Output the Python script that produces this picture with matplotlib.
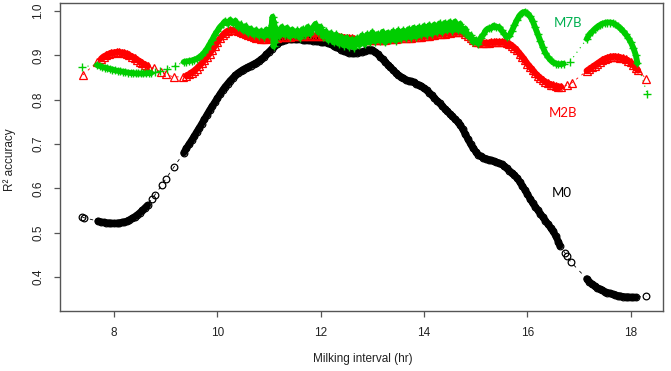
import matplotlib
matplotlib.use("Agg")
import matplotlib.pyplot as plt

# ---------------- data ----------------
m0_x = [7.38, 7.41, 7.69,
        7.75, 7.80, 7.85, 7.90, 7.95, 8.00, 8.05, 8.10, 8.15, 8.20,
        8.25, 8.30, 8.35, 8.40, 8.45, 8.50, 8.55, 8.60, 8.65,
        8.73, 8.79, 8.93, 9.00, 9.16,
        9.35, 9.40, 9.45, 9.50, 9.55, 9.60, 9.65, 9.70, 9.75, 9.80,
        9.85, 9.90, 9.95, 10.00, 10.05, 10.10, 10.15, 10.20, 10.25, 10.30,
        10.35, 10.40, 10.45, 10.50, 10.55, 10.60, 10.65, 10.70, 10.75, 10.80,
        10.85, 10.90, 10.95, 11.00, 11.05, 11.10, 11.15, 11.20, 11.25, 11.30,
        11.35, 11.40, 11.45, 11.50, 11.55, 11.60, 11.65, 11.70, 11.75, 11.80,
        11.85, 11.90, 11.95, 12.00, 12.05, 12.10, 12.15, 12.20, 12.25, 12.30,
        12.35, 12.40, 12.45, 12.50, 12.55, 12.60, 12.65, 12.70, 12.75, 12.80,
        12.85, 12.90, 12.95, 13.00, 13.05, 13.10, 13.15, 13.20, 13.25, 13.30,
        13.35, 13.40, 13.45, 13.50, 13.55, 13.60, 13.65, 13.70, 13.75, 13.80,
        13.85, 13.90, 13.95, 14.00, 14.05, 14.10, 14.15, 14.20, 14.25, 14.30,
        14.35, 14.40, 14.45, 14.50, 14.55, 14.60, 14.65, 14.70, 14.75, 14.80,
        14.85, 14.90, 14.95, 15.00, 15.05, 15.10, 15.15, 15.20, 15.25, 15.30,
        15.35, 15.40, 15.45, 15.50, 15.55, 15.60, 15.65, 15.70, 15.75, 15.80,
        15.85, 15.90, 15.95, 16.00, 16.05, 16.10, 16.15, 16.20, 16.25, 16.30,
        16.35, 16.40, 16.45, 16.50, 16.55, 16.60, 16.63,
        16.73, 16.77, 16.84, 17.15,
        17.20, 17.25, 17.30, 17.35, 17.40, 17.45, 17.50, 17.55, 17.60, 17.65,
        17.70, 17.75, 17.80, 17.85, 17.90, 17.95, 18.00, 18.05, 18.10,
        18.30]
m0_y = [0.536, 0.534, 0.526,
        0.524, 0.523, 0.522, 0.522, 0.521, 0.521, 0.521, 0.522, 0.523, 0.524,
        0.526, 0.529, 0.532, 0.536, 0.540, 0.545, 0.550, 0.556, 0.562,
        0.576, 0.585, 0.608, 0.621, 0.648,
        0.680, 0.690, 0.699, 0.708, 0.717, 0.727, 0.736, 0.746, 0.756, 0.766,
        0.776, 0.785, 0.794, 0.803, 0.812, 0.821, 0.829, 0.836, 0.843, 0.849,
        0.855, 0.860, 0.864, 0.868, 0.871, 0.874, 0.877, 0.880, 0.883, 0.887,
        0.891, 0.896, 0.902, 0.908, 0.914, 0.920, 0.926, 0.930, 0.933, 0.935,
        0.936, 0.936, 0.936, 0.936, 0.936, 0.936, 0.935, 0.935, 0.934, 0.934,
        0.933, 0.933, 0.932, 0.931, 0.930, 0.929, 0.927, 0.925, 0.922, 0.919,
        0.916, 0.913, 0.910, 0.908, 0.906, 0.905, 0.905, 0.906, 0.907, 0.908,
        0.910, 0.912, 0.913, 0.912, 0.908, 0.903, 0.897, 0.891, 0.885, 0.879,
        0.873, 0.867, 0.861, 0.856, 0.852, 0.848, 0.845, 0.843, 0.841, 0.839,
        0.836, 0.833, 0.830, 0.826, 0.821, 0.816, 0.810, 0.804, 0.798, 0.792,
        0.786, 0.780, 0.774, 0.768, 0.762, 0.756, 0.750, 0.743, 0.733, 0.722,
        0.711, 0.700, 0.691, 0.683, 0.676, 0.672, 0.669, 0.667, 0.665, 0.663,
        0.661, 0.659, 0.657, 0.654, 0.650, 0.645, 0.640, 0.635, 0.630, 0.623,
        0.615, 0.606, 0.597, 0.587, 0.577, 0.567, 0.559, 0.551, 0.543, 0.535,
        0.527, 0.519, 0.511, 0.503, 0.492, 0.480, 0.470,
        0.454, 0.447, 0.434, 0.396,
        0.389, 0.384, 0.380, 0.376, 0.373, 0.370, 0.367, 0.365, 0.363, 0.361,
        0.360, 0.358, 0.357, 0.356, 0.355, 0.355, 0.354, 0.354, 0.354,
        0.357]

m2b_x = [7.40, 7.68,
         7.75, 7.80, 7.85, 7.90, 7.95, 8.00, 8.05, 8.10, 8.15, 8.20,
         8.25, 8.30, 8.35, 8.40, 8.45, 8.50, 8.55, 8.60, 8.65,
         8.77, 8.90, 9.00, 9.16, 9.34,
         9.40, 9.45, 9.50, 9.55, 9.60, 9.65, 9.70, 9.75, 9.80, 9.85,
         9.90, 9.95, 10.00, 10.05, 10.10, 10.15, 10.20, 10.25, 10.30, 10.35,
         10.40, 10.45, 10.50, 10.55, 10.60, 10.65, 10.70, 10.75, 10.80, 10.85,
         10.90, 10.95, 11.00, 11.05, 11.10, 11.15, 11.20, 11.25, 11.30, 11.35,
         11.40, 11.45, 11.50, 11.55, 11.60, 11.65, 11.70, 11.75, 11.80, 11.85,
         11.90, 11.95, 12.00, 12.05, 12.10, 12.15, 12.20, 12.25, 12.30, 12.35,
         12.40, 12.45, 12.50, 12.55, 12.60, 12.65, 12.70, 12.75, 12.80, 12.85,
         12.90, 12.95, 13.00, 13.05, 13.10, 13.15, 13.20, 13.25, 13.30, 13.35,
         13.40, 13.45, 13.50, 13.55, 13.60, 13.65, 13.70, 13.75, 13.80, 13.85,
         13.90, 13.95, 14.00, 14.05, 14.10, 14.15, 14.20, 14.25, 14.30, 14.35,
         14.40, 14.45, 14.50, 14.55, 14.60, 14.65, 14.70, 14.75, 14.80, 14.85,
         14.90, 14.95, 15.00, 15.05, 15.10, 15.15, 15.20, 15.25, 15.30, 15.35,
         15.40, 15.45, 15.50, 15.55, 15.60, 15.65, 15.70, 15.75, 15.80, 15.85,
         15.90, 15.95, 16.00, 16.05, 16.10, 16.15, 16.20, 16.25, 16.30, 16.35,
         16.40, 16.45, 16.50, 16.55, 16.60, 16.65,
         16.77, 16.86, 17.15,
         17.20, 17.25, 17.30, 17.35, 17.40, 17.45, 17.50, 17.55, 17.60, 17.65,
         17.70, 17.75, 17.80, 17.85, 17.90, 17.95, 18.00, 18.05, 18.10, 18.14,
         18.30]
m2b_y = [0.856, 0.886,
         0.892, 0.897, 0.900, 0.903, 0.905, 0.906, 0.907, 0.907, 0.906, 0.905,
         0.903, 0.900, 0.897, 0.894, 0.890, 0.886, 0.882, 0.879, 0.876,
         0.871, 0.862, 0.857, 0.851, 0.852,
         0.854, 0.857, 0.861, 0.865, 0.870, 0.876, 0.882, 0.889, 0.896, 0.904,
         0.912, 0.921, 0.930, 0.938, 0.945, 0.951, 0.955, 0.957, 0.957, 0.956,
         0.954, 0.952, 0.950, 0.948, 0.946, 0.944, 0.942, 0.940, 0.938, 0.937,
         0.937, 0.937, 0.938, 0.939, 0.940, 0.940, 0.941, 0.941, 0.942, 0.942,
         0.942, 0.943, 0.943, 0.943, 0.943, 0.944, 0.944, 0.944, 0.944, 0.944,
         0.944, 0.944, 0.944, 0.944, 0.943, 0.943, 0.943, 0.942, 0.942, 0.941,
         0.941, 0.940, 0.939, 0.938, 0.938, 0.937, 0.936, 0.935, 0.935, 0.934,
         0.934, 0.934, 0.934, 0.934, 0.934, 0.935, 0.935, 0.935, 0.936, 0.936,
         0.937, 0.937, 0.938, 0.938, 0.939, 0.939, 0.940, 0.940, 0.941, 0.941,
         0.942, 0.942, 0.943, 0.944, 0.944, 0.945, 0.946, 0.947, 0.948, 0.948,
         0.949, 0.950, 0.951, 0.952, 0.952, 0.953, 0.953, 0.952, 0.948, 0.943,
         0.938, 0.934, 0.931, 0.929, 0.928, 0.928, 0.928, 0.928, 0.929, 0.929,
         0.930, 0.930, 0.930, 0.929, 0.928, 0.926, 0.922, 0.917, 0.911, 0.904,
         0.897, 0.889, 0.881, 0.874, 0.867, 0.860, 0.854, 0.849, 0.844, 0.840,
         0.837, 0.834, 0.832, 0.830, 0.829, 0.829,
         0.833, 0.838, 0.865,
         0.869, 0.873, 0.877, 0.881, 0.885, 0.889, 0.892, 0.894, 0.896, 0.897,
         0.897, 0.896, 0.895, 0.893, 0.891, 0.888, 0.884, 0.878, 0.871, 0.866,
         0.847]

m7b_x = [7.38, 7.67,
         7.72, 7.77, 7.82, 7.87, 7.92, 7.97, 8.02, 8.07, 8.12, 8.17,
         8.22, 8.27, 8.32, 8.37, 8.42, 8.47, 8.52, 8.57, 8.62, 8.67, 8.72,
         8.79, 8.89, 9.02, 9.18,
         9.35, 9.40, 9.45, 9.50, 9.55, 9.60, 9.65, 9.70, 9.75, 9.80,
         9.85, 9.90, 9.95, 10.00, 10.05, 10.10, 10.15, 10.20, 10.25, 10.30,
         10.35, 10.40, 10.45, 10.50, 10.55, 10.60, 10.65, 10.70, 10.75, 10.80,
         10.85, 10.90, 10.95, 11.00, 11.05, 11.07, 11.09, 11.10, 11.12,
         11.15, 11.20, 11.25, 11.30,
         11.35, 11.40, 11.45, 11.50, 11.55, 11.60, 11.65, 11.70, 11.75, 11.80,
         11.85, 11.90, 11.95, 12.00, 12.05, 12.10, 12.15, 12.20, 12.25, 12.30,
         12.35, 12.40, 12.45, 12.50, 12.55, 12.60, 12.65, 12.70, 12.75, 12.80,
         12.85, 12.90, 12.95, 13.00, 13.05, 13.10, 13.15, 13.20, 13.25, 13.30,
         13.35, 13.40, 13.45, 13.50, 13.55, 13.60, 13.65, 13.70, 13.75, 13.80,
         13.85, 13.90, 13.95, 14.00, 14.05, 14.10, 14.15, 14.20, 14.25, 14.30,
         14.35, 14.40, 14.45, 14.50, 14.55, 14.60, 14.65, 14.70, 14.75, 14.80,
         14.85, 14.90, 14.95, 15.00, 15.05, 15.10, 15.15, 15.20, 15.25, 15.30,
         15.35, 15.40, 15.45, 15.50, 15.55, 15.60, 15.65, 15.70, 15.75, 15.80,
         15.85, 15.90, 15.95, 16.00, 16.05, 16.10, 16.15, 16.20, 16.25, 16.30,
         16.35, 16.40, 16.45, 16.50, 16.55, 16.60, 16.65, 16.70,
         16.82, 17.15,
         17.20, 17.25, 17.30, 17.35, 17.40, 17.45, 17.50, 17.55, 17.60, 17.65,
         17.70, 17.75, 17.80, 17.85, 17.90, 17.95, 18.00, 18.05, 18.10, 18.13,
         18.32]
m7b_y = [0.874, 0.878,
         0.876, 0.874, 0.872, 0.871, 0.869, 0.868, 0.866, 0.865, 0.864, 0.863,
         0.862, 0.861, 0.860, 0.860, 0.859, 0.859, 0.859, 0.859, 0.859, 0.860, 0.860,
         0.862, 0.865, 0.870, 0.876,
         0.885, 0.886, 0.887, 0.888, 0.890, 0.892, 0.896, 0.900, 0.907, 0.915,
         0.925, 0.935, 0.946, 0.955, 0.964, 0.970, 0.977, 0.971, 0.980, 0.972,
         0.978, 0.964, 0.970, 0.956, 0.966, 0.950, 0.960, 0.946, 0.957, 0.944,
         0.955, 0.942, 0.958, 0.945, 0.968, 0.987, 0.920, 0.975, 0.930,
         0.959, 0.943, 0.964, 0.946,
         0.962, 0.942, 0.958, 0.945, 0.956, 0.939, 0.959, 0.946, 0.964, 0.948,
         0.963, 0.971, 0.952, 0.964, 0.942, 0.954, 0.934, 0.950, 0.929, 0.947,
         0.926, 0.942, 0.922, 0.940, 0.919, 0.936, 0.917, 0.938, 0.923, 0.945,
         0.925, 0.947, 0.929, 0.952, 0.931, 0.948, 0.933, 0.953, 0.929, 0.951,
         0.934, 0.954, 0.933, 0.956, 0.937, 0.956, 0.939, 0.959, 0.940, 0.962,
         0.942, 0.963, 0.946, 0.966, 0.946, 0.968, 0.948, 0.969, 0.952, 0.972,
         0.952, 0.973, 0.956, 0.975, 0.955, 0.976, 0.957, 0.971, 0.953, 0.960,
         0.943, 0.946, 0.930, 0.935, 0.926, 0.940, 0.947, 0.957, 0.961, 0.961,
         0.967, 0.963, 0.964, 0.956, 0.949, 0.941, 0.944, 0.955, 0.968, 0.980,
         0.990, 0.996, 0.998, 0.995, 0.988, 0.978, 0.963, 0.948, 0.933, 0.918,
         0.905, 0.896, 0.889, 0.884, 0.881, 0.880, 0.880, 0.881,
         0.885, 0.937,
         0.947, 0.953, 0.959, 0.964, 0.968, 0.971, 0.973, 0.974, 0.974, 0.973,
         0.970, 0.966, 0.961, 0.955, 0.948, 0.940, 0.930, 0.917, 0.900, 0.882,
         0.813]

x_ticks = [8, 10, 12, 14, 16, 18]
y_ticks = [0.4, 0.5, 0.6, 0.7, 0.8, 0.9, 1.0]
series_labels = ["M7B", "M2B", "M0"]

assert len(m0_x) == len(m0_y)
assert len(m2b_x) == len(m2b_y)
assert len(m7b_x) == len(m7b_y)


def dense_runs(xs, ys, gap=0.06):
    """Split a series into runs of closely spaced observations."""
    runs, cur = [], [0]
    for i in range(1, len(xs)):
        if xs[i] - xs[i - 1] <= gap:
            cur.append(i)
        else:
            runs.append(cur)
            cur = [i]
    runs.append(cur)
    return [([xs[i] for i in r], [ys[i] for i in r]) for r in runs if len(r) >= 3]


# ---------------- figure ----------------
W, H = 671, 371
fig = plt.figure(figsize=(W / 100, H / 100), dpi=100)
ax = fig.add_axes([60 / W, 1 - 311 / H, (663 - 60) / W, (311 - 3) / H])

GREEN = "#00CD00"
RED = "#FF0000"
BLACK = "#000000"

# connecting dashed lines (R type "b")
ax.plot(m0_x, m0_y, color=BLACK, lw=0.6, ls=(0, (4, 6)), zorder=1)
ax.plot(m2b_x, m2b_y, color=RED, lw=0.6, ls=(0, (3, 5)), zorder=1)
ax.plot(m7b_x, m7b_y, color=GREEN, lw=0.8, ls=(0, (1, 4)), zorder=1)

# densely overplotted stretches appear as solid bands
for (rx, ry) in dense_runs(m0_x, m0_y):
    ax.plot(rx, ry, color=BLACK, lw=5.0, solid_capstyle="round",
            solid_joinstyle="round", zorder=2)
for (rx, ry) in dense_runs(m2b_x, m2b_y):
    ax.plot(rx, ry, color=RED, lw=4.6, solid_capstyle="round",
            solid_joinstyle="round", zorder=2.5)
for (rx, ry) in dense_runs(m7b_x, m7b_y):
    ax.plot(rx, ry, color=GREEN, lw=4.2, solid_capstyle="round",
            solid_joinstyle="round", zorder=4.5)

ax.plot(m0_x, m0_y, ls="none", marker="o", ms=4.8, mfc="none",
        mec=BLACK, mew=0.9, zorder=3)
ax.plot(m2b_x, m2b_y, ls="none", marker="^", ms=6.0, mfc="none",
        mec=RED, mew=0.9, zorder=4)
ax.plot(m7b_x, m7b_y, ls="none", marker="+", ms=6.2,
        mec=GREEN, mew=1.0, zorder=5)

ax.set_xlim(6.955, 18.625)
ax.set_ylim(0.3233, 1.018)

ax.set_xticks(x_ticks)
ax.set_xticklabels([str(v) for v in x_ticks])
ax.set_yticks(y_ticks)
ax.set_yticklabels([f"{v:.1f}" for v in y_ticks])

FRAME = "#555555"
for s in ax.spines.values():
    s.set_color(FRAME)
    s.set_linewidth(1.0)
ax.tick_params(axis="both", direction="out", length=4.3, width=0.9,
               color=FRAME, labelsize=8.5, labelcolor="#222222",
               labelfontfamily="Liberation Sans")
ax.tick_params(axis="x", pad=7)
ax.tick_params(axis="y", pad=7)
for lab in ax.get_yticklabels():
    lab.set_rotation(90)
    lab.set_va("center")

fig.text(363 / W, 1 - 359 / H, "Milking interval (hr)", ha="center",
         va="center", fontsize=8.5, family="Liberation Sans", color="#222222")
fig.text(10 / W, 1 - 160 / H, "R² accuracy", ha="center", va="center",
         rotation=90, fontsize=8.5, family="Liberation Sans", color="#222222")

ax.text(16.79, 0.973, series_labels[0], color="#00B050", fontsize=9.5,
        family="Lato", ha="center", va="center")
ax.text(16.69, 0.770, series_labels[1], color=RED, fontsize=9.5,
        family="Lato", ha="center", va="center")
ax.text(16.67, 0.589, series_labels[2], color=BLACK, fontsize=9.5,
        family="Lato", ha="center", va="center")

fig.savefig("out.png", dpi=100)
